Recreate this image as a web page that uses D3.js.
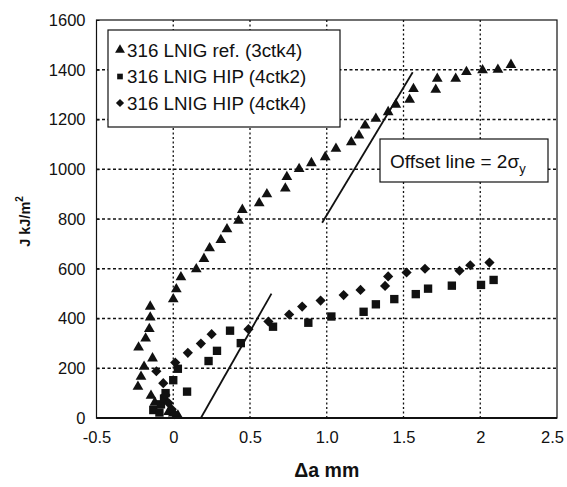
<!DOCTYPE html>
<html><head><meta charset="utf-8">
<script src="https://cdn.jsdelivr.net/npm/d3@7"></script>
<style>body{margin:0;background:#fff;} svg{display:block;font-family:"Liberation Sans",Arial,sans-serif;}</style>
</head><body><div id="chart"></div>
<script>
const seriesNames = ["316 LNIG ref. (3ctk4)", "316 LNIG HIP (4ctk2)", "316 LNIG HIP (4ctk4)"];
const xTicks = [-0.5, 0, 0.5, 1.0, 1.5, 2, 2.5];
const xTickLabels = ["-0.5", "0", "0.5", "1.0", "1.5", "2", "2.5"];
const yTicks = [0, 200, 400, 600, 800, 1000, 1200, 1400, 1600];

const refX = [-0.23,-0.21,-0.19,-0.135,-0.226,-0.18,-0.156,-0.15,-0.15,-0.145,-0.12,-0.03,0.0,0.03,0.0,0.02,0.05,0.15,0.2,0.237,0.31,0.35,0.425,0.45,0.56,0.61,0.73,0.74,0.82,0.9,0.99,1.06,1.16,1.21,1.25,1.32,1.4,1.45,1.54,1.565,1.71,1.72,1.84,1.91,2.015,2.115,2.2];
const refJ = [126,166,206,240,284,320,358,404,448,90,62,25,18,10,478,518,566,598,640,683,716,759,793,837,864,900,923,969,1001,1025,1049,1083,1109,1136,1176,1203,1230,1260,1280,1323,1320,1364,1364,1391,1398,1400,1420];

const hip2X = [-0.13,-0.09,-0.08,-0.06,-0.05,0.0,0.03,0.09,0.23,0.285,0.44,0.37,0.65,0.88,1.03,1.24,1.32,1.44,1.58,1.66,1.815,2.005,2.087];
const hip2J = [32,22,55,78,100,152,198,106,229,270,301,351,367,383,408,427,457,478,498,520,532,535,555];

const hip4X = [-0.11,-0.065,-0.05,-0.03,-0.01,0.01,0.013,0.095,0.18,0.25,0.49,0.62,0.755,0.84,0.96,1.11,1.22,1.38,1.4,1.52,1.64,1.865,1.935,2.06];
const hip4J = [188,140,92,60,35,15,223,262,299,337,357,388,416,448,472,494,515,531,569,585,600,592,614,625];

const offsetLine1X = [0.18, 0.64];
const offsetLine1J = [0, 500];
const offsetLine2X = [0.97, 1.56];
const offsetLine2J = [785, 1390];

const W = 567, H = 487;
const m = {l: 96.5, r: 10, t: 20, b: 69};
const svg = d3.select("#chart").append("svg").attr("width", W).attr("height", H);
const x = d3.scaleLinear().domain([-0.5, 2.5]).range([m.l, W - m.r]);
const y = d3.scaleLinear().domain([0, 1600]).range([H - m.b, m.t]);

// grid
const g = svg.append("g");
g.selectAll(".vg").data(xTicks.slice(1, -1)).join("line")
  .attr("x1", d => x(d)).attr("x2", d => x(d)).attr("y1", y(0)).attr("y2", y(1600))
  .attr("stroke", "#111").attr("stroke-width", 1.3).attr("stroke-dasharray", "2,2.5");
g.selectAll(".hg").data(yTicks.slice(1, -1)).join("line")
  .attr("x1", x(-0.5)).attr("x2", x(2.5)).attr("y1", d => y(d)).attr("y2", d => y(d))
  .attr("stroke", "#111").attr("stroke-width", 1.3).attr("stroke-dasharray", "3,2.5");

// frame
svg.append("rect").attr("x", x(-0.5)).attr("y", y(1600)).attr("width", x(2.5) - x(-0.5)).attr("height", y(0) - y(1600))
  .attr("fill", "none").attr("stroke", "#111").attr("stroke-width", 1.2);
svg.append("line").attr("x1", x(-0.5)).attr("x2", x(2.5)).attr("y1", y(0)).attr("y2", y(0)).attr("stroke", "#111").attr("stroke-width", 2);

// axes
const ax = svg.append("g").attr("transform", `translate(0,${y(0)})`)
  .call(d3.axisBottom(x).tickValues(xTicks).tickFormat((d, i) => xTickLabels[i]).tickSize(0).tickPadding(13));
ax.select(".domain").remove();
ax.selectAll("text").attr("font-size", 16.5).attr("fill", "#111").attr("font-family", "Liberation Sans, Arial")
  .attr("dx", (d, i) => i === xTicks.length - 1 ? -5 : 0);
const ay = svg.append("g").attr("transform", `translate(${x(-0.5)},0)`)
  .call(d3.axisLeft(y).tickValues(yTicks).tickFormat(d3.format("d")).tickSize(-3).tickPadding(11));
ay.select(".domain").remove();
ay.selectAll("line").attr("stroke", "#111");
ay.selectAll("text").attr("font-size", 16.5).attr("fill", "#111").attr("font-family", "Liberation Sans, Arial");

// axis titles
const xt = svg.append("text").attr("x", x(1.0)).attr("y", 477).attr("text-anchor", "middle")
  .attr("font-size", 19.5).attr("font-weight", "bold").attr("fill", "#111");
xt.append("tspan").text("\u0394a mm");
const yt = svg.append("text").attr("transform", `translate(30,${y(790)}) rotate(-90)`).attr("text-anchor", "middle")
  .attr("font-size", 14.5).attr("font-weight", "bold").attr("fill", "#111");
yt.append("tspan").text("J kJ/m");
yt.append("tspan").text("2").attr("font-size", 10).attr("dy", -7);

// offset lines
const lineGen = d3.line().x(d => x(d[0])).y(d => y(d[1]));
[[offsetLine1X, offsetLine1J], [offsetLine2X, offsetLine2J]].forEach(([xs, js]) => {
  svg.append("path").datum(xs.map((v, i) => [v, js[i]])).attr("d", lineGen)
    .attr("fill", "none").attr("stroke", "#111").attr("stroke-width", 1.8);
});

// markers
const symTri = d3.symbol().type(d3.symbolTriangle).size(50);
const symSq = d3.symbol().type(d3.symbolSquare).size(70);
const symDia = d3.symbol().type(d3.symbolSquare).size(52);
function plot(xs, js, sym, rot) {
  svg.append("g").selectAll("path").data(xs.map((v, i) => [v, js[i]])).join("path")
    .attr("d", sym).attr("transform", d => `translate(${x(d[0])},${y(d[1])}) rotate(${rot})`).attr("fill", "#111");
}
plot(refX, refJ, symTri, 0);
plot(hip2X, hip2J, symSq, 0);
plot(hip4X, hip4J, symDia, 45);

// legend
const lg = svg.append("g");
lg.append("rect").attr("x", 108).attr("y", 30).attr("width", 232).attr("height", 97)
  .attr("fill", "#fff").attr("stroke", "#111").attr("stroke-width", 1.2);
const syms = [d3.symbol().type(d3.symbolTriangle).size(42), d3.symbol().type(d3.symbolSquare).size(32), d3.symbol().type(d3.symbolSquare).size(34)];
const rots = [0, 0, 45];
seriesNames.forEach((n, i) => {
  const yy = 50 + i * 26.5;
  lg.append("path").attr("d", syms[i]).attr("transform", `translate(120,${yy}) rotate(${rots[i]})`).attr("fill", "#111");
  lg.append("text").attr("x", 127).attr("y", yy + 6.5).attr("font-size", 18.8).attr("fill", "#111").text(n);
});

// offset annotation
const ob = svg.append("g");
ob.append("rect").attr("x", 380).attr("y", 139).attr("width", 168).attr("height", 43)
  .attr("fill", "#fff").attr("stroke", "#111").attr("stroke-width", 1.2);
const ot = ob.append("text").attr("x", 390).attr("y", 167.5).attr("font-size", 19).attr("fill", "#111");
ot.append("tspan").text("Offset line = 2\u03c3");
ot.append("tspan").text("y").attr("font-size", 13).attr("dy", 5);
</script></body></html>
